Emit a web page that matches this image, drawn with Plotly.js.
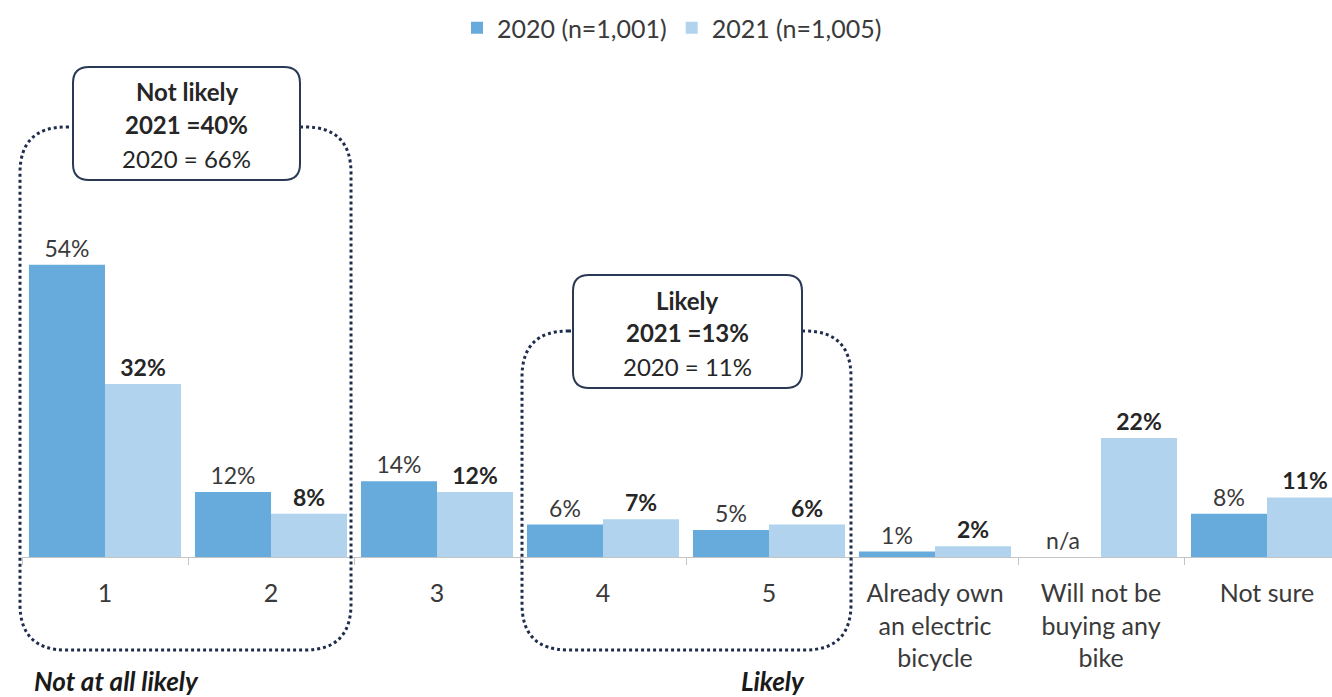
<!DOCTYPE html>
<html>
<head>
<meta charset="utf-8">
<script src="https://cdn.plot.ly/plotly-3.0.1.min.js"></script>
<style>html,body{margin:0;padding:0;background:#fff;overflow:hidden}</style>
</head>
<body>
<div id="chart" style="width:1332px;height:697px"></div>
<script>
// ---- data ----
const categories = ["1", "2", "3", "4", "5",
  "Already own<br>an electric<br>bicycle",
  "Will not be<br>buying any<br>bike",
  "Not sure"];
const values2020 = [54, 12, 14, 6, 5, 1, null, 8];
const values2021 = [32, 8, 12, 7, 6, 2, 22, 11];
const labels2020 = ["54%", "12%", "14%", "6%", "5%", "1%", "n/a", "8%"];
const labels2021 = ["32%", "8%", "12%", "7%", "6%", "2%", "22%", "11%"];
const seriesNames = ["2020 (n=1,001)", "2021 (n=1,005)"];
const boxNotLikely = ["<b>Not likely</b>", "<b>2021 =40%</b>", "2020 = 66%"];
const boxLikely = ["<b>Likely</b>", "<b>2021 =13%</b>", "2020 = 11%"];
const footLabels = ["<b><i>Not at all likely</i></b>", "<b><i>Likely</i></b>"];

// ---- layout geometry (pixels) ----
const W = 1332, H = 697;
const M = {l: 22, r: 0, t: 60, b: 140};
const plotW = W - M.l - M.r, plotH = H - M.t - M.b;
const px = x => (x - M.l) / plotW;
const py = y => (H - M.b - y) / plotH;

function roundRect(x0, y0, x1, y1, r) {
  const P = (x, y) => px(x).toFixed(5) + "," + py(y).toFixed(5);
  return "M" + P(x0 + r, y0) + " L" + P(x1 - r, y0) + " Q" + P(x1, y0) + " " + P(x1, y0 + r) +
    " L" + P(x1, y1 - r) + " Q" + P(x1, y1) + " " + P(x1 - r, y1) +
    " L" + P(x0 + r, y1) + " Q" + P(x0, y1) + " " + P(x0, y1 - r) +
    " L" + P(x0, y0 + r) + " Q" + P(x0, y0) + " " + P(x0 + r, y0) + " Z";
}

const FONT = "Lato, 'Open Sans', sans-serif";
const TXT = "#3a3a3a";
const NAVY = "#1f2d4d";

const traces = [
  {
    type: "bar", name: seriesNames[0], x: categories,
    y: values2020.map(v => v === null ? 0 : v),
    text: labels2020, textposition: "outside", cliponaxis: false,
    textfont: {family: FONT, size: 23, color: TXT},
    marker: {color: "#67aadc"}, hoverinfo: "skip"
  },
  {
    type: "bar", name: seriesNames[1], x: categories, y: values2021,
    text: labels2021, texttemplate: "<b>%{text}</b>", textposition: "outside", cliponaxis: false,
    textfont: {family: FONT, size: 23, color: "#262626"},
    marker: {color: "#b1d3ee"}, hoverinfo: "skip"
  }
];

const shapes = [
  {type: "path", xref: "paper", yref: "paper", path: roundRect(20, 127, 351, 650, 46),
   line: {color: NAVY, width: 3, dash: "dot"}, layer: "above"},
  {type: "path", xref: "paper", yref: "paper", path: roundRect(522, 331, 851, 650, 46),
   line: {color: NAVY, width: 3, dash: "dot"}, layer: "above"},
  {type: "path", xref: "paper", yref: "paper", path: roundRect(73, 67, 300, 180, 16),
   line: {color: "#2a3a55", width: 2}, fillcolor: "#ffffff", layer: "above"},
  {type: "path", xref: "paper", yref: "paper", path: roundRect(573, 275, 802, 388, 16),
   line: {color: "#2a3a55", width: 2}, fillcolor: "#ffffff", layer: "above"}
];

const annotations = [];
const lineYs1 = [92, 125, 158], lineYs2 = [300, 333, 366];
boxNotLikely.forEach((t, i) => annotations.push({xref: "paper", yref: "paper",
  x: px(186.5), y: py(lineYs1[i]), text: t, showarrow: false, xanchor: "center", yanchor: "middle",
  font: {family: FONT, size: 24, color: "#262626"}}));
boxLikely.forEach((t, i) => annotations.push({xref: "paper", yref: "paper",
  x: px(687.5), y: py(lineYs2[i]), text: t, showarrow: false, xanchor: "center", yanchor: "middle",
  font: {family: FONT, size: 24, color: "#262626"}}));
annotations.push({xref: "paper", yref: "paper", x: px(32), y: py(681), text: footLabels[0],
  showarrow: false, xanchor: "left", yanchor: "middle", font: {family: FONT, size: 26, color: "#1a1a1a"}});
annotations.push({xref: "paper", yref: "paper", x: px(773), y: py(681), text: footLabels[1],
  showarrow: false, xanchor: "center", yanchor: "middle", font: {family: FONT, size: 26, color: "#1a1a1a"}});

const layout = {
  width: W, height: H, margin: M,
  paper_bgcolor: "#ffffff", plot_bgcolor: "#ffffff",
  font: {family: FONT, size: 23, color: TXT},
  barmode: "group", bargap: 0.084, bargroupgap: 0,
  showlegend: true,
  legend: {orientation: "h", x: px(672), xanchor: "center", y: py(28), yanchor: "middle",
    font: {family: FONT, size: 25, color: TXT}, bgcolor: "rgba(0,0,0,0)"},
  xaxis: {type: "category", range: [-0.5, -0.5 + plotW / 166], fixedrange: true,
    showline: true, linecolor: "#c4c4c4", linewidth: 1,
    ticks: "outside", tickson: "boundaries", ticklen: 7, tickcolor: "#c4c4c4",
    ticklabelstandoff: 14,
    tickfont: {family: FONT, size: 25, color: TXT}, showgrid: false, zeroline: false},
  yaxis: {visible: false, range: [0, plotH / 5.41], showgrid: false, zeroline: false, fixedrange: true},
  shapes: shapes, annotations: annotations
};

Plotly.newPlot("chart", traces, layout, {displayModeBar: false, staticPlot: true});
</script>
</body>
</html>
